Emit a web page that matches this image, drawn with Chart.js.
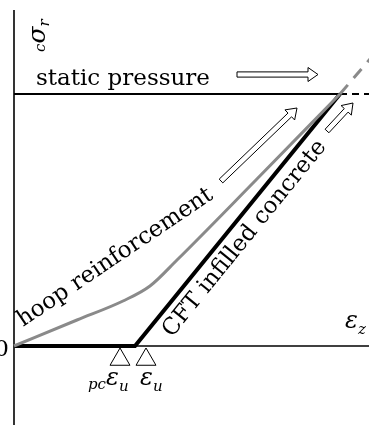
<!DOCTYPE html>
<html>
<head>
<meta charset="utf-8">
<script src="https://cdn.jsdelivr.net/npm/chart.js@4.4.1/dist/chart.umd.min.js"></script>
<style>
  html, body { margin: 0; padding: 0; background: #fff; }
  #wrap { width: 369px; height: 425px; position: relative; }
</style>
</head>
<body>
<div id="wrap"><canvas id="chart"></canvas></div>
<script>
// Schematic lateral stress (cσr) vs. axial strain (εz) paths

// hoop reinforcement path (grey)
const hoopStrain = [0, 0.63, 1.09, 1.36, 1.63, 2.40, 3.26];
const hoopStress = [0, 0.26, 0.45, 0.60, 0.86, 1.64, 2.52];
// continuation of the hoop path past the static pressure level
const hoopExtStrain = [3.26, 3.56];
const hoopExtStress = [2.52, 2.87];

// CFT infilled concrete path (black)
const cftStrain = [0, 1.21, 3.26];
const cftStress = [0, 0, 2.52];

// static pressure level
const staticPressure = 2.52;
const staticSolidStrain = [0, 3.26];
const staticDashStrain = [3.26, 3.56];

// ultimate strain markers: pcεu, εu
const ultimateStrains = [1.06, 1.32];
const markerLevel = -0.135;

// axis extents
const xRange = [-0.14, 3.55];
const yRange = [-0.79, 3.46];
const yAxisTop = 3.36;

const pts = (xs, ys) => xs.map((x, i) => ({ x, y: ys[i] }));

const SERIF = '"DejaVu Serif", "Liberation Serif", serif';

function hollowArrow(ctx, x1, y1, x2, y2, sh, hh, hl) {
  const dx = x2 - x1, dy = y2 - y1;
  const len = Math.hypot(dx, dy);
  const ux = dx / len, uy = dy / len;
  const nx = -uy, ny = ux;
  const bx = x2 - ux * hl, by = y2 - uy * hl;
  ctx.save();
  ctx.beginPath();
  ctx.moveTo(x1 + nx * sh, y1 + ny * sh);
  ctx.lineTo(bx + nx * sh, by + ny * sh);
  ctx.lineTo(bx + nx * hh, by + ny * hh);
  ctx.lineTo(x2, y2);
  ctx.lineTo(bx - nx * hh, by - ny * hh);
  ctx.lineTo(bx - nx * sh, by - ny * sh);
  ctx.lineTo(x1 - nx * sh, y1 - ny * sh);
  ctx.closePath();
  ctx.fillStyle = '#fff';
  ctx.fill();
  ctx.strokeStyle = '#000';
  ctx.lineWidth = 1;
  ctx.stroke();
  ctx.restore();
}

// arrows given as [x1, y1, x2, y2] in strain/stress units
const arrows = [
  [2.23, 2.715, 3.04, 2.715],
  [2.07, 1.65, 2.83, 2.38],
  [3.13, 2.15, 3.39, 2.43]
];

const decorPlugin = {
  id: 'decor',
  beforeDatasetsDraw(chart) {
    const { ctx, scales: { x, y } } = chart;
    ctx.save();
    ctx.strokeStyle = '#000';
    ctx.lineWidth = 1.6;
    // vertical axis
    ctx.beginPath();
    ctx.moveTo(x.getPixelForValue(0), y.getPixelForValue(yAxisTop));
    ctx.lineTo(x.getPixelForValue(0), y.getPixelForValue(yRange[0]));
    ctx.stroke();
    // horizontal axis
    ctx.beginPath();
    ctx.moveTo(x.getPixelForValue(0), y.getPixelForValue(0));
    ctx.lineTo(x.getPixelForValue(xRange[1]), y.getPixelForValue(0));
    ctx.stroke();
    ctx.restore();
  },
  afterDatasetsDraw(chart) {
    const { ctx, scales: { x, y } } = chart;
    const px = v => x.getPixelForValue(v);
    const py = v => y.getPixelForValue(v);

    // arrows
    arrows.forEach(a => hollowArrow(ctx, px(a[0]), py(a[1]), px(a[2]), py(a[3]), 2.6, 7, 10));

    ctx.save();
    ctx.fillStyle = '#000';
    ctx.textBaseline = 'alphabetic';

    // static pressure caption
    ctx.font = '23px ' + SERIF;
    ctx.textAlign = 'left';
    ctx.fillText('static pressure', px(0) + 22, py(staticPressure) - 9);

    // rotated path captions
    const rotText = (txt, ax, ay, deg) => {
      ctx.save();
      ctx.translate(ax, ay);
      ctx.rotate(deg * Math.PI / 180);
      ctx.fillText(txt, 0, 0);
      ctx.restore();
    };
    rotText('hoop reinforcement', px(0) + 9, py(0) - 19, -34);
    rotText('CFT infilled concrete', px(0) + 158, py(0) - 8, -51);

    // origin label
    ctx.textAlign = 'right';
    ctx.font = '23px ' + SERIF;
    ctx.fillText('0', px(0) - 5, py(0) + 10);
    ctx.textAlign = 'left';

    // math labels drawn piecewise: [text, size, dy]
    const mathLabel = (parts, sx, sy) => {
      let cx = sx;
      parts.forEach(([t, size, dy]) => {
        ctx.font = 'italic ' + size + 'px ' + SERIF;
        ctx.fillText(t, cx, sy + dy);
        cx += ctx.measureText(t).width;
      });
    };
    // strain labels under the markers
    mathLabel([['pc', 15, 4], ['ε', 24, 0], ['u', 15, 6]], px(ultimateStrains[0]) - 32, py(0) + 39);
    mathLabel([['ε', 24, 0], ['u', 15, 6]], px(ultimateStrains[1]) - 6, py(0) + 39);
    // horizontal axis title
    mathLabel([['ε', 24, 0], ['z', 15, 6]], px(xRange[1]) - 24, py(0) - 18);

    // vertical axis title, reading upward
    ctx.save();
    ctx.translate(px(0) + 31, 52);
    ctx.rotate(-Math.PI / 2);
    mathLabel([['c', 15, 0], ['σ', 25, 0], ['r', 15, 4]], 0, 0);
    ctx.restore();

    ctx.restore();
  }
};

new Chart(document.getElementById('chart'), {
  type: 'line',
  data: {
    datasets: [
      {
        label: 'hoop reinforcement',
        data: pts(hoopStrain, hoopStress),
        borderColor: '#8a8a8a',
        borderWidth: 3,
        pointRadius: 0,
        cubicInterpolationMode: 'monotone',
        fill: false
      },
      {
        label: 'hoop reinforcement (beyond)',
        data: pts(hoopExtStrain, hoopExtStress),
        borderColor: '#8a8a8a',
        borderWidth: 3,
        borderDash: [12, 9],
        pointRadius: 0,
        fill: false
      },
      {
        label: 'static pressure',
        data: pts(staticSolidStrain, [staticPressure, staticPressure]),
        borderColor: '#000',
        borderWidth: 1.8,
        pointRadius: 0,
        fill: false
      },
      {
        label: 'static pressure (beyond)',
        data: pts(staticDashStrain, [staticPressure, staticPressure]),
        borderColor: '#000',
        borderWidth: 1.8,
        borderDash: [7, 5],
        pointRadius: 0,
        fill: false
      },
      {
        label: 'CFT infilled concrete',
        data: pts(cftStrain, cftStress),
        borderColor: '#000',
        borderWidth: 4,
        pointRadius: 0,
        fill: false
      },
      {
        label: 'ultimate strain',
        data: ultimateStrains.map(v => ({ x: v, y: markerLevel })),
        showLine: false,
        pointStyle: 'triangle',
        pointRadius: 11.5,
        pointBackgroundColor: '#fff',
        pointBorderColor: '#000',
        pointBorderWidth: 1,
        clip: false
      }
    ]
  },
  options: {
    responsive: true,
    maintainAspectRatio: false,
    animation: false,
    layout: { padding: 0, autoPadding: false },
    plugins: { legend: { display: false }, tooltip: { enabled: false } },
    events: [],
    scales: {
      x: { type: 'linear', display: false, min: xRange[0], max: xRange[1] },
      y: { type: 'linear', display: false, min: yRange[0], max: yRange[1] }
    }
  },
  plugins: [decorPlugin]
});
</script>
</body>
</html>
